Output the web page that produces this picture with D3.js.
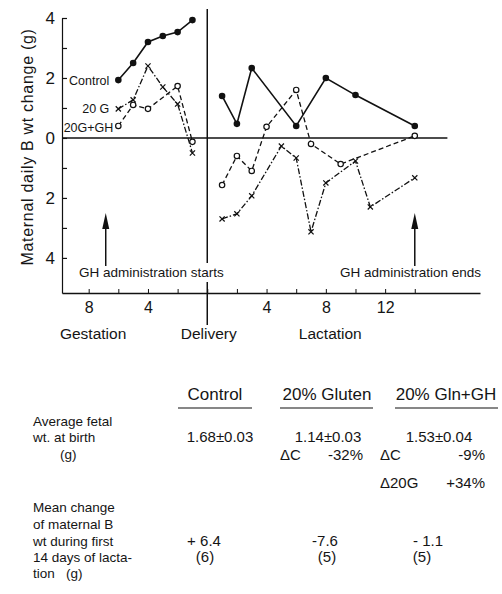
<!DOCTYPE html>
<html>
<head>
<meta charset="utf-8">
<script src="https://cdn.jsdelivr.net/npm/d3@7"></script>
<style>
    body { margin: 0; background: #fff; }
    svg { display: block; }
    text { font-family: "Liberation Sans", Arial, sans-serif; fill: #151515; }
</style>
</head>
<body>
<div id="chart"></div>
<script>
// gestation points: days before delivery
const gestDays = [6, 5, 4, 3, 2, 1];
const controlGest = [1.93, 2.5, 3.2, 3.4, 3.53, 3.93];
const gluten20Gest = [0.97, 1.27, 2.4, 1.7, 1.13, -0.5];
const glnGhGestDays = [6, 5, 4, 2, 1];
const glnGhGest = [0.4, 1.1, 0.97, 1.73, -0.13];

// lactation points: days after delivery
const controlLactDays = [1, 2, 3, 6, 8, 10, 14];
const controlLact = [1.4, 0.47, 2.33, 0.4, 2.0, 1.43, 0.4];
const gluten20LactDays = [1, 2, 3, 5, 6, 7, 8, 10, 11, 14];
const gluten20Lact = [-2.7, -2.53, -1.93, -0.27, -0.67, -3.13, -1.5, -0.77, -2.3, -1.33];
const glnGhLactDays = [1, 2, 3, 4, 6, 7, 9, 14];
const glnGhLact = [-1.57, -0.6, -1.1, 0.37, 1.6, -0.2, -0.87, 0.07];

const seriesNames = ["Control", "20 G", "20G+GH"];
const yTicks = [-4, -3, -2, -1, 0, 1, 2, 3, 4];
const xTicks = [-8, -6, -4, -2, 0, 2, 4, 6, 8, 10, 12, 14];
const xLabelled = [-8, -4, 4, 8, 12];
const phaseLabels = ["Gestation", "Delivery", "Lactation"];

// table below the chart
const groups = ["Control", "20% Gluten", "20% Gln+GH"];
const fetalWt = ["1.68\u00b10.03", "1.14\u00b10.03", "1.53\u00b10.04"];
const fetalDeltaC = [null, "-32%", "-9%"];
const fetalDelta20G = [null, null, "+34%"];
const maternalChange = ["+ 6.4", "-7.6", "- 1.1"];
const nRats = ["(6)", "(5)", "(5)"];

const width = 502, height = 594;

const svg = d3.select("#chart").append("svg")
    .attr("width", width)
    .attr("height", height);

const x = d3.scaleLinear().domain([-9.8, 18.4]).range([62, 480]);
const y = d3.scaleLinear().domain([-5.17, 4]).range([293, 18]);

// ---- axes ----
svg.append("g")
    .attr("transform", `translate(${x.range()[0]},0)`)
    .call(d3.axisLeft(y).tickValues(yTicks).tickSizeInner(-5).tickSizeOuter(0).tickPadding(7)
        .tickFormat(d => d % 2 === 0 ? Math.abs(d) : ""))
    .call(g => g.selectAll("text").style("font-family", "Liberation Sans, Arial, sans-serif").attr("font-size", 17))
    .call(g => g.selectAll("line, path").attr("stroke", "#111").attr("stroke-width", 1.2));

svg.append("g")
    .attr("transform", `translate(0,${y.range()[0]})`)
    .call(d3.axisBottom(x).tickValues(xTicks).tickSizeInner(-4).tickSizeOuter(0).tickPadding(9)
        .tickFormat(d => xLabelled.includes(d) ? Math.abs(d) : ""))
    .call(g => g.selectAll("text").style("font-family", "Liberation Sans, Arial, sans-serif").attr("font-size", 16))
    .call(g => g.select(".domain").attr("stroke-width", 1.6))
    .call(g => g.selectAll("line, path").attr("stroke", "#111"));

svg.append("text")
    .attr("transform", `translate(33,147) rotate(-90)`)
    .attr("text-anchor", "middle")
    .attr("font-size", 16)
    .style("letter-spacing", "0.7px")
    .text("Maternal daily B wt change (g)");

// zero line
svg.append("line")
    .attr("x1", x.range()[0]).attr("x2", x(16.2))
    .attr("y1", y(0)).attr("y2", y(0))
    .attr("stroke", "#111").attr("stroke-width", 1.4);

// delivery line (broken around the annotation text)
svg.append("line")
    .attr("x1", x(0)).attr("x2", x(0))
    .attr("y1", 9).attr("y2", 263)
    .attr("stroke", "#111").attr("stroke-width", 1.5);
svg.append("line")
    .attr("x1", x(0)).attr("x2", x(0))
    .attr("y1", 282).attr("y2", 325)
    .attr("stroke", "#111").attr("stroke-width", 1.5);

// phase labels
const phaseX = [-7.7, 0.1, 8.3];
svg.selectAll(".phase")
    .data(phaseLabels)
    .enter().append("text")
    .attr("class", "phase")
    .attr("x", (d, i) => x(phaseX[i]))
    .attr("y", 339)
    .attr("text-anchor", "middle")
    .attr("font-size", 15.5)
    .text(d => d);

// ---- series ----
const series = [
    { name: seriesNames[0], dash: null, marker: "dot", width: 1.6,
      parts: [gestDays.map((d, i) => [-d, controlGest[i]]), controlLactDays.map((d, i) => [d, controlLact[i]])],
      labelDx: -9, labelDy: 5 },
    { name: seriesNames[1], dash: "6,2,1.5,2", marker: "cross", width: 1.3,
      parts: [gestDays.map((d, i) => [-d, gluten20Gest[i]]), gluten20LactDays.map((d, i) => [d, gluten20Lact[i]])],
      labelDx: -9, labelDy: 4 },
    { name: seriesNames[2], dash: "5,3", marker: "ring", width: 1.3,
      parts: [glnGhGestDays.map((d, i) => [-d, glnGhGest[i]]), glnGhLactDays.map((d, i) => [d, glnGhLact[i]])],
      labelDx: -5, labelDy: 6 }
];

const line = d3.line().x(d => x(d[0])).y(d => y(d[1]));

series.forEach(s => {
    const g = svg.append("g");
    s.parts.forEach(p => {
        g.append("path")
            .attr("d", line(p))
            .attr("fill", "none")
            .attr("stroke", "#111")
            .attr("stroke-width", s.width)
            .attr("stroke-dasharray", s.dash);
    });
    const pts = s.parts[0].concat(s.parts[1]);
    if (s.marker === "dot") {
        g.selectAll("circle").data(pts).enter().append("circle")
            .attr("cx", d => x(d[0])).attr("cy", d => y(d[1]))
            .attr("r", 3.3).attr("fill", "#111");
    } else if (s.marker === "ring") {
        g.selectAll("circle").data(pts).enter().append("circle")
            .attr("cx", d => x(d[0])).attr("cy", d => y(d[1]))
            .attr("r", 2.7).attr("fill", "#fff").attr("stroke", "#111").attr("stroke-width", 1.2);
    } else {
        g.selectAll("path.x").data(pts).enter().append("path")
            .attr("class", "x")
            .attr("d", d => {
                const cx = x(d[0]), cy = y(d[1]), r = 2.6;
                return `M${cx - r},${cy - r}L${cx + r},${cy + r}M${cx + r},${cy - r}L${cx - r},${cy + r}`;
            })
            .attr("stroke", "#111").attr("stroke-width", 1.2);
    }
    const first = s.parts[0][0];
    g.append("text")
        .attr("x", x(first[0]) + s.labelDx)
        .attr("y", y(first[1]) + s.labelDy)
        .attr("text-anchor", "end")
        .attr("font-size", 12.5)
        .text(s.name);
});

// ---- GH arrows ----
const ghMarks = [
    { day: -6.85, text: "GH administration starts", tx: 79, anchor: "start" },
    { day: 14, text: "GH administration ends", tx: 481, anchor: "end" }
];
ghMarks.forEach(m => {
    const ax = x(m.day);
    svg.append("line")
        .attr("x1", ax).attr("x2", ax)
        .attr("y1", 266).attr("y2", 222)
        .attr("stroke", "#111").attr("stroke-width", 1.5);
    svg.append("path")
        .attr("d", `M${ax},213L${ax - 3.5},229L${ax + 3.5},229Z`)
        .attr("fill", "#111");
    svg.append("text")
        .attr("x", m.tx).attr("y", 277)
        .attr("text-anchor", m.anchor)
        .attr("font-size", 13.5)
        .text(m.text);
});

// ---- table ----
const colX = [215, 327, 446];
const underline = [[178, 252], [280, 373], [395, 498]];

svg.selectAll(".head")
    .data(groups)
    .enter().append("text")
    .attr("x", (d, i) => colX[i])
    .attr("y", 400)
    .attr("text-anchor", "middle")
    .attr("font-size", 17)
    .text(d => d);

svg.selectAll(".uline")
    .data(underline)
    .enter().append("line")
    .attr("x1", d => d[0]).attr("x2", d => d[1])
    .attr("y1", 408).attr("y2", 408)
    .attr("stroke", "#111").attr("stroke-width", 1.2);

const rowLabels = [
    ["Average fetal", 33, 426], ["wt. at birth", 33, 442], ["(g)", 60, 459],
    ["Mean change", 33, 512], ["of maternal B", 33, 529], ["wt during first", 33, 546],
    ["14 days of lacta-", 33, 562], ["tion   (g)", 33, 578]
];
svg.selectAll(".rowlab")
    .data(rowLabels)
    .enter().append("text")
    .attr("x", d => d[1]).attr("y", d => d[2])
    .attr("font-size", 13.5)
    .style("white-space", "pre")
    .text(d => d[0]);

const cell = (arr, yy, dx) => svg.append("g").selectAll("text")
    .data(arr)
    .enter().append("text")
    .attr("x", (d, i) => colX[i] + (dx ? dx[i] : 0))
    .attr("y", yy)
    .attr("text-anchor", "middle")
    .attr("font-size", 15)
    .text(d => d);

cell(fetalWt, 442, [5, 1, -7]);
cell(maternalChange, 546, [-11, -2, -18]);
cell(nRats, 562, [-10, 0, -24]);

// delta rows
const deltaRow = (labels, values, yy) => {
    values.forEach((v, i) => {
        if (v === null) return;
        svg.append("text")
            .attr("x", colX[i] - (i === 1 ? 47 : 66)).attr("y", yy)
            .attr("font-size", 15)
            .text(labels[i]);
        svg.append("text")
            .attr("x", colX[i] + (i === 1 ? 36 : 39)).attr("y", yy)
            .attr("text-anchor", "end")
            .attr("font-size", 15)
            .text(v);
    });
};
deltaRow(["", "\u0394C", "\u0394C"], fetalDeltaC, 460);
deltaRow(["", "", "\u039420G"], fetalDelta20G, 488);
</script>
</body>
</html>
